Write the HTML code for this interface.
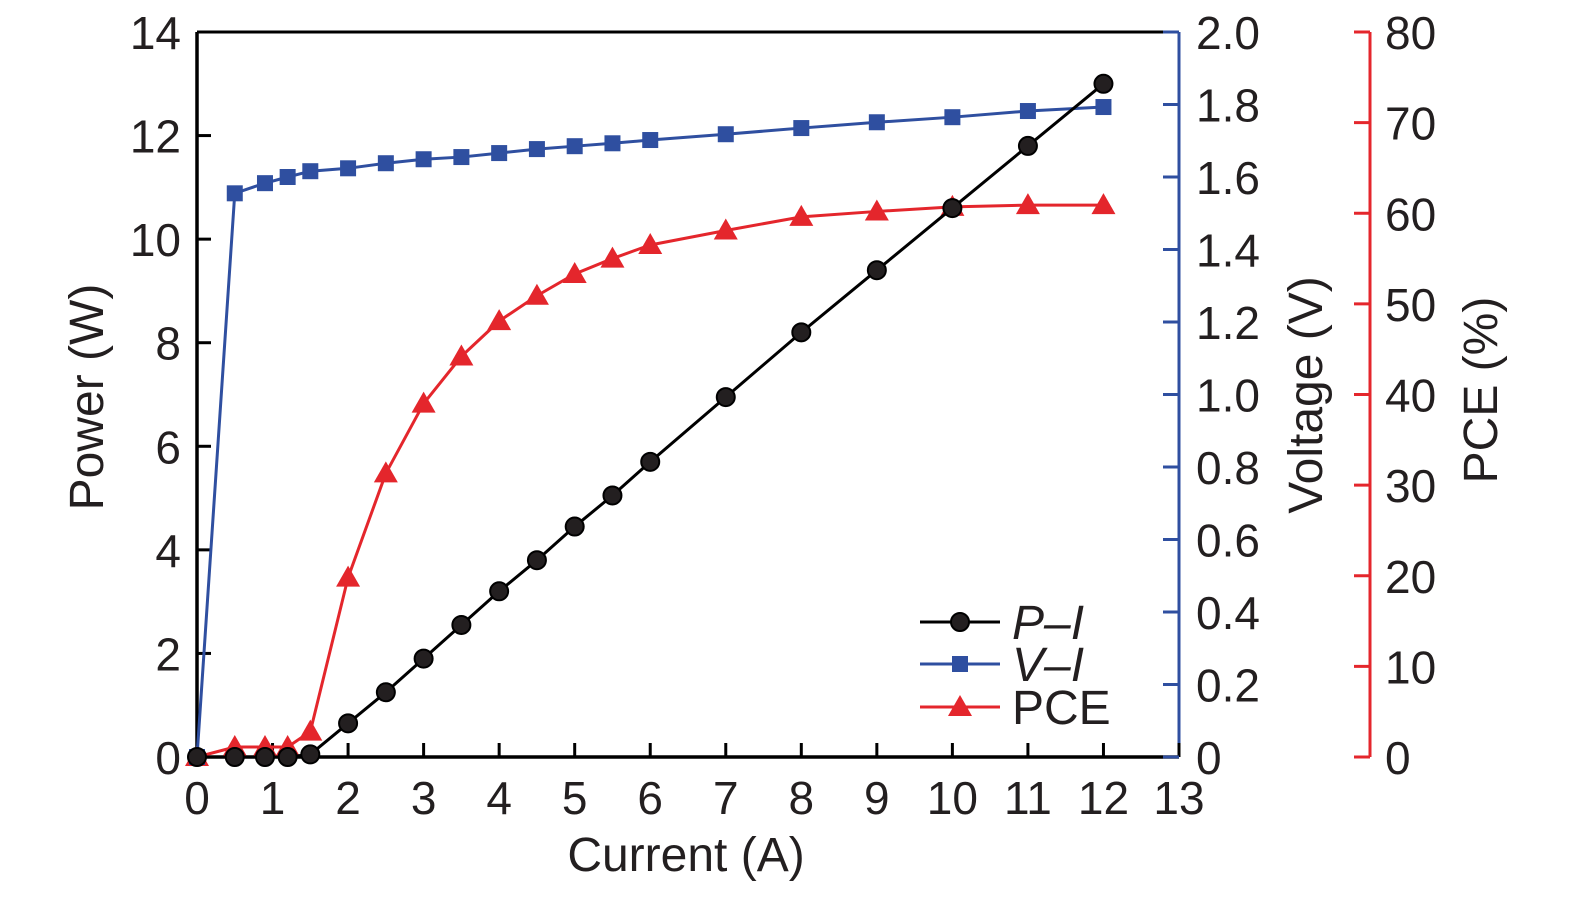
<!DOCTYPE html>
<html><head><meta charset="utf-8"><style>
html,body{margin:0;padding:0;background:#fff;}
svg text{font-family:"Liberation Sans",sans-serif;fill:#231f20;}
</style></head><body>
<svg width="1575" height="894" xmlns="http://www.w3.org/2000/svg">
<g id="g"></g>
</svg>
<script>
const currents=[0,0.5,0.9,1.2,1.5,2,2.5,3,3.5,4,4.5,5,5.5,6,7,8,9,10,11,12];
const power=[0,0,0,0,0.05,0.65,1.25,1.9,2.55,3.2,3.8,4.45,5.05,5.7,6.95,8.2,9.4,10.6,11.8,13.0];
const voltage=[0,1.555,1.583,1.6,1.616,1.624,1.638,1.649,1.655,1.666,1.677,1.685,1.693,1.702,1.718,1.735,1.751,1.765,1.782,1.793];
const pce=[0,1.1,1.1,1.1,2.8,19.8,31.3,39,44.2,48.1,50.9,53.3,55,56.5,58.1,59.6,60.2,60.7,60.9,60.9];
const xTicks=[0,1,2,3,4,5,6,7,8,9,10,11,12,13];
const pTicks=[0,2,4,6,8,10,12,14];
const vTicks=["0","0.2","0.4","0.6","0.8","1.0","1.2","1.4","1.6","1.8","2.0"];
const pceTicks=[0,10,20,30,40,50,60,70,80];
const X0=197,X1=1179,Y0=757,Y1=32,VX=1179,RX=1370;
const sx=v=>X0+(X1-X0)*v/13;
const sp=v=>Y0-(Y0-Y1)*v/14;
const sv=v=>Y0-(Y0-Y1)*v/2;
const sc=v=>Y0-(Y0-Y1)*v/80;
const g=document.getElementById('g');const NS='http://www.w3.org/2000/svg';
function mk(t,a,txt){const e=document.createElementNS(NS,t);for(const k in a)e.setAttribute(k,a[k]);if(txt!==undefined)e.textContent=txt;g.appendChild(e);return e;}
let e;
e=mk('line',{x1:X0,y1:Y1,x2:VX-14,y2:Y1,stroke:'#000','stroke-width':3});


e=mk('line',{x1:X0,y1:Y1,x2:X0,y2:Y0,stroke:'#000','stroke-width':3.5});


e=mk('line',{x1:X0,y1:Y0,x2:VX,y2:Y0,stroke:'#000','stroke-width':3.5});


e=mk('line',{x1:VX,y1:Y1,x2:VX,y2:Y0,stroke:'#2f4fa0','stroke-width':3});


e=mk('line',{x1:RX,y1:Y1,x2:RX,y2:Y0,stroke:'#e4262c','stroke-width':3});


xTicks.forEach(v=>{
 e=mk('line',{x1:sx(v),y1:Y0,x2:sx(v),y2:Y0-14,stroke:'#000','stroke-width':3});
 
 
 e=mk('text',{x:sx(v),y:814,'font-size':46,'text-anchor':'middle'},String(v));
 
 
});
pTicks.forEach(v=>{
 e=mk('line',{x1:X0,y1:sp(v),x2:X0+14,y2:sp(v),stroke:'#000','stroke-width':3});
 
 
 e=mk('text',{x:181,y:sp(v)+17,'font-size':46,'text-anchor':'end'},String(v));
 
 
});
vTicks.forEach(t=>{const v=parseFloat(t);
 e=mk('line',{x1:VX-16,y1:sv(v),x2:VX,y2:sv(v),stroke:'#2f4fa0','stroke-width':3});
 
 
 e=mk('text',{x:1196,y:sv(v)+17,'font-size':46},t);
 
 
});
pceTicks.forEach(v=>{
 e=mk('line',{x1:RX-16,y1:sc(v),x2:RX,y2:sc(v),stroke:'#e4262c','stroke-width':3});
 
 
 e=mk('text',{x:1385,y:sc(v)+17,'font-size':46},String(v));
 
 
});
e=mk('text',{x:686,y:871,'font-size':48,'text-anchor':'middle'},'Current (A)');


e=mk('text',{x:0,y:0,'font-size':48,'text-anchor':'middle',transform:'translate(103,397) rotate(-90)'},'Power (W)');


e=mk('text',{x:0,y:0,'font-size':48,'text-anchor':'middle',transform:'translate(1322,395) rotate(-90)'},'Voltage (V)');


e=mk('text',{x:0,y:0,'font-size':48,'text-anchor':'middle',transform:'translate(1497,390) rotate(-90)'},'PCE (%)');


function series(vals,sy,col,name,marker){
 e=mk('polyline',{points:currents.map((c,i)=>sx(c)+','+sy(vals[i])).join(' '),fill:'none',stroke:col,'stroke-width':3});
 
 
 currents.forEach((c,i)=>{marker(sx(c),sy(vals[i]),name);});
}
function tri(x,y,name){e=mk('polygon',{points:`${x},${y-12} ${x-12},${y+9} ${x+12},${y+9}`,fill:'#e4262c'});
 
 }
function sq(x,y,name){e=mk('rect',{x:x-8,y:y-8,width:16,height:16,fill:'#2f4fa0'});
 
 }
function circ(x,y,name){e=mk('circle',{cx:x,cy:y,r:9,fill:'#231f20',stroke:'#000','stroke-width':2});
 
 }
series(pce,sc,'#e4262c','pce',tri);
series(voltage,sv,'#2f4fa0','voltage',sq);
series(power,sp,'#000','power',circ);
const leg=[['P–I','#000',circ,true,622],['V–I','#2f4fa0',sq,true,664],['PCE','#e4262c',tri,false,707]];
leg.forEach(l=>{
 e=mk('line',{x1:920,y1:l[4],x2:1000,y2:l[4],stroke:l[1],'stroke-width':3});
 
 
 l[2](960,l[4],'legend');
 e=mk('text',{x:1012,y:l[4]+17,'font-size':48,'font-style':l[3]?'italic':'normal'},l[0]);
 
 
});
</script>
</body></html>
